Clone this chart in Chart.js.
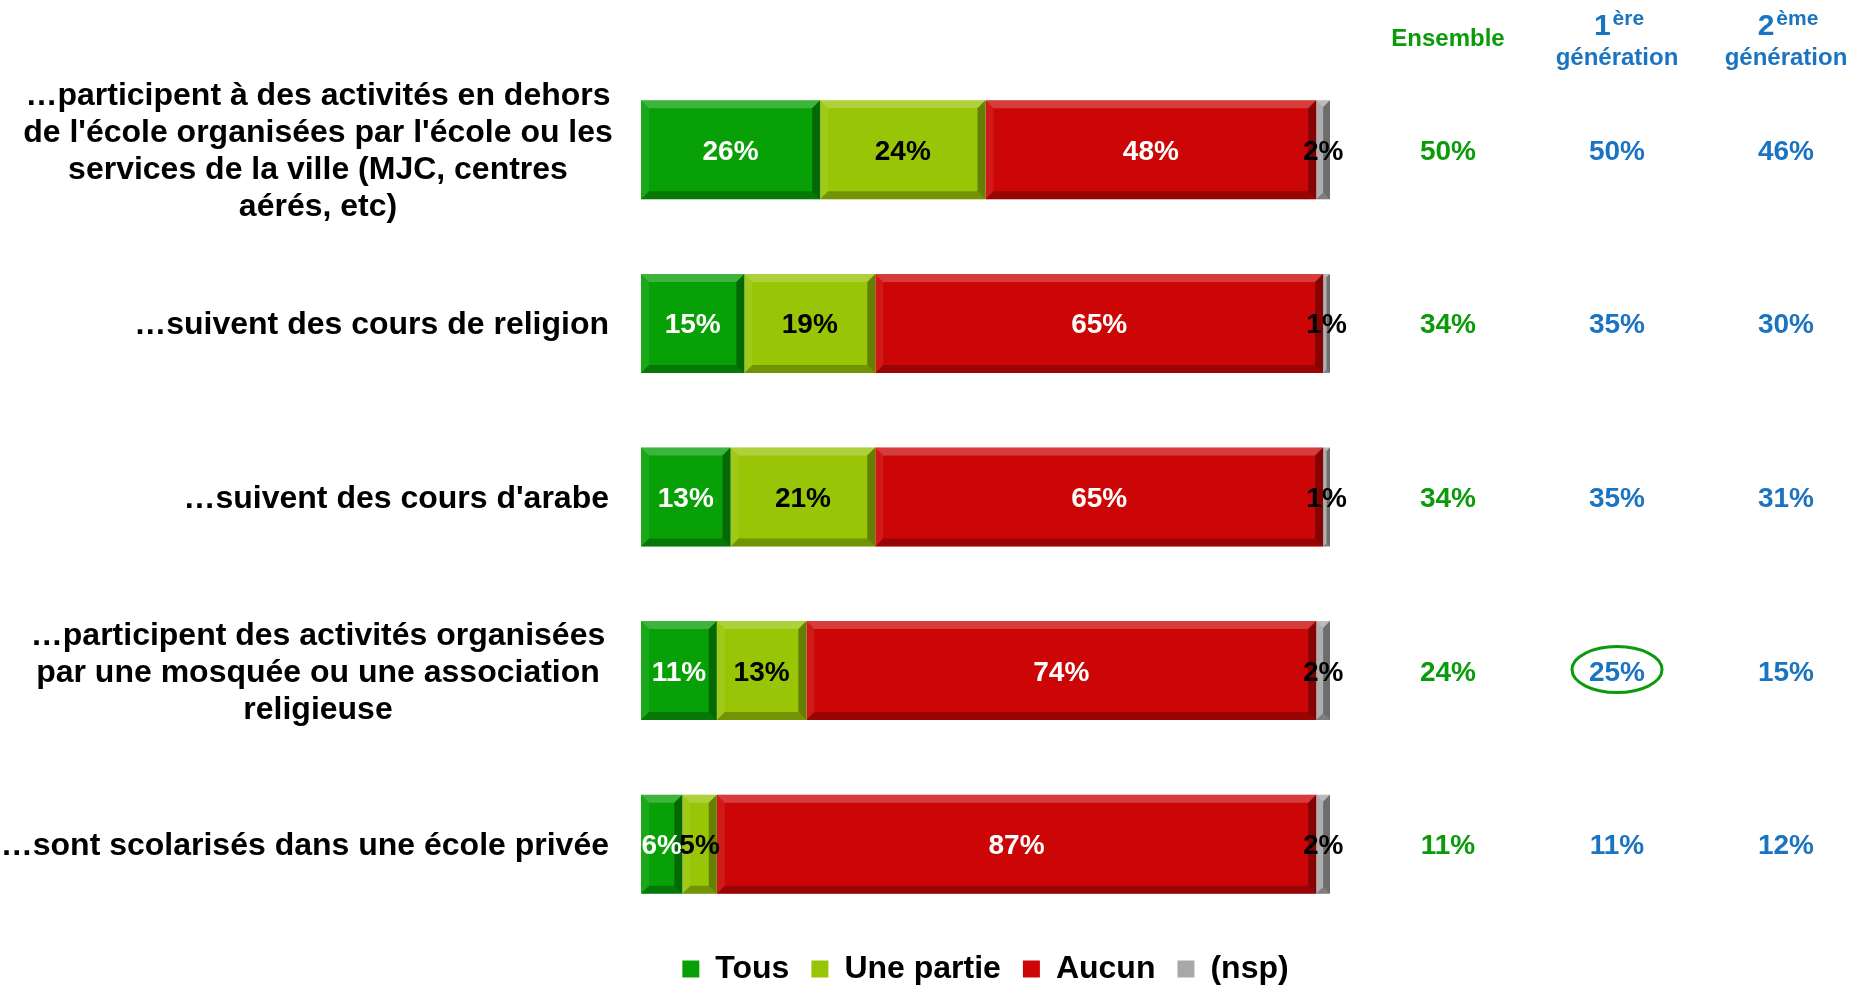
<!DOCTYPE html>
<html lang="fr">
<head>
<meta charset="utf-8">
<title>Activités des enfants</title>
<script src="https://cdn.jsdelivr.net/npm/chart.js@4.4.1/dist/chart.umd.min.js"></script>
<style>
  html, body { margin: 0; padding: 0; background: #fff; }
  #wrap { width: 1861px; height: 988px; position: relative; }
</style>
</head>
<body>
<div id="wrap"><canvas id="chart" width="1861" height="988"></canvas></div>
<script>
// libellés des lignes (une entrée par ligne de texte)
const categories = [
  ['…participent à des activités en dehors', "de l'école organisées par l'école ou les", 'services de la ville (MJC, centres', 'aérés, etc)'],
  ['…suivent des cours de religion'],
  ["…suivent des cours d'arabe"],
  ['…participent des activités organisées', 'par une mosquée ou une association', 'religieuse'],
  ['…sont scolarisés dans une école privée']
];
const seriesNames = ['Tous', 'Une partie', 'Aucun', '(nsp)'];
const tous = [26, 15, 13, 11, 6];
const unePartie = [24, 19, 21, 13, 5];
const aucun = [48, 65, 65, 74, 87];
const nsp = [2, 1, 1, 2, 2];

// colonnes de droite
const columnTitles = ['Ensemble', '1|ère', '2|ème'];
const ensemble = [50, 34, 34, 24, 11];
const gen1 = [50, 35, 35, 25, 11];
const gen2 = [46, 30, 31, 15, 12];

const FONT = "'Liberation Sans', Arial, sans-serif";
const GREEN_TXT = '#0a9a0a';
const BLUE_TXT = '#1b74c2';

Chart.defaults.font.family = FONT;
Chart.defaults.font.weight = 'bold';
Chart.defaults.color = '#000';

// relief des barres + étiquettes de valeurs
const barDecor = {
  id: 'barDecor',
  afterDatasetsDraw(chart) {
    const ctx = chart.ctx;
    chart.data.datasets.forEach((ds, di) => {
      chart.getDatasetMeta(di).data.forEach(bar => {
        const l = Math.min(bar.x, bar.base), r = Math.max(bar.x, bar.base);
        const t = bar.y - bar.height / 2, b = bar.y + bar.height / 2;
        const d = Math.min(8, (r - l) / 2);
        ctx.save();
        ctx.fillStyle = 'rgba(255,255,255,0.22)';
        ctx.beginPath(); ctx.moveTo(l, t); ctx.lineTo(r, t); ctx.lineTo(r - d, t + d); ctx.lineTo(l + d, t + d); ctx.fill();
        ctx.fillStyle = 'rgba(0,0,0,0.25)';
        ctx.beginPath(); ctx.moveTo(l, b); ctx.lineTo(r, b); ctx.lineTo(r - d, b - d); ctx.lineTo(l + d, b - d); ctx.fill();
        ctx.fillStyle = 'rgba(0,0,0,0.35)';
        ctx.beginPath(); ctx.moveTo(r, t); ctx.lineTo(r, b); ctx.lineTo(r - d, b - d); ctx.lineTo(r - d, t + d); ctx.fill();
        ctx.fillStyle = 'rgba(255,255,255,0.08)';
        ctx.beginPath(); ctx.moveTo(l, t); ctx.lineTo(l, b); ctx.lineTo(l + d, b - d); ctx.lineTo(l + d, t + d); ctx.fill();
        ctx.restore();
      });
    });
    ctx.save();
    ctx.font = 'bold 28px ' + FONT;
    ctx.textAlign = 'center';
    ctx.textBaseline = 'alphabetic';
    chart.data.datasets.forEach((ds, di) => {
      chart.getDatasetMeta(di).data.forEach((bar, i) => {
        ctx.fillStyle = ds.labelColor;
        ctx.fillText(ds.data[i] + '%', (bar.x + bar.base) / 2, bar.y + 10);
      });
    });
    ctx.restore();
  }
};

// libellés à gauche et colonnes à droite
const sideText = {
  id: 'sideText',
  afterDraw(chart) {
    const ctx = chart.ctx;
    const y = chart.scales.y;
    ctx.save();
    ctx.textBaseline = 'alphabetic';
    ctx.fillStyle = '#000';
    ctx.font = 'bold 32px ' + FONT;
    categories.forEach((lines, i) => {
      const cy = y.getPixelForValue(i);
      const lh = 37;
      const y0 = cy - (lines.length - 1) / 2 * lh;
      if (lines.length > 1) {
        ctx.textAlign = 'center';
        lines.forEach((s, k) => ctx.fillText(s, 318, y0 + k * lh + 11));
      } else {
        ctx.textAlign = 'right';
        ctx.fillText(lines[0], 609, cy + 11);
      }
    });

    // en-têtes
    const colX = [1448, 1617, 1786];
    ctx.textAlign = 'center';
    ctx.fillStyle = GREEN_TXT;
    ctx.font = 'bold 24px ' + FONT;
    ctx.fillText(columnTitles[0], colX[0], 46);
    ctx.fillStyle = BLUE_TXT;
    [1, 2].forEach(c => {
      const [big, sup] = columnTitles[c].split('|');
      ctx.font = 'bold 30px ' + FONT;
      const w1 = ctx.measureText(big).width;
      ctx.font = 'bold 21px ' + FONT;
      const w2 = ctx.measureText(sup).width;
      const x0 = colX[c] + 2 - (w1 + w2 + 2) / 2;
      ctx.textAlign = 'left';
      ctx.font = 'bold 30px ' + FONT;
      ctx.fillText(big, x0, 35);
      ctx.font = 'bold 21px ' + FONT;
      ctx.fillText(sup, x0 + w1 + 2, 25);
      ctx.textAlign = 'center';
      ctx.font = 'bold 24px ' + FONT;
      ctx.fillText('génération', colX[c], 65);
    });

    // valeurs
    ctx.font = 'bold 28px ' + FONT;
    [[ensemble, GREEN_TXT], [gen1, BLUE_TXT], [gen2, BLUE_TXT]].forEach(([vals, col], c) => {
      ctx.fillStyle = col;
      vals.forEach((v, i) => ctx.fillText(v + '%', colX[c], y.getPixelForValue(i) + 10));
    });

    // ellipse autour de 25 %
    ctx.strokeStyle = GREEN_TXT;
    ctx.lineWidth = 3;
    ctx.beginPath();
    ctx.ellipse(colX[1], y.getPixelForValue(3) - 1, 45, 23, 0, 0, Math.PI * 2);
    ctx.stroke();
    ctx.restore();
  }
};

new Chart(document.getElementById('chart'), {
  type: 'bar',
  data: {
    labels: categories,
    datasets: [
      { label: seriesNames[0], data: tous, backgroundColor: '#07a007', labelColor: '#fff' },
      { label: seriesNames[1], data: unePartie, backgroundColor: '#98c505', labelColor: '#000' },
      { label: seriesNames[2], data: aucun, backgroundColor: '#cc0606', labelColor: '#fff' },
      { label: seriesNames[3], data: nsp, backgroundColor: '#a8a8a8', labelColor: '#000' }
    ]
  },
  options: {
    indexAxis: 'y',
    responsive: false,
    animation: false,
    barPercentage: 0.57,
    categoryPercentage: 1,
    layout: { padding: { left: 641, right: 531, top: 63, bottom: -7 } },
    scales: {
      x: { stacked: true, min: 0, max: 100, display: false },
      y: { stacked: true, display: false }
    },
    plugins: {
      tooltip: { enabled: false },
      legend: {
        position: 'bottom',
        labels: {
          boxWidth: 17,
          boxHeight: 17,
          padding: 22,
          color: '#000',
          font: { size: 32, weight: 'bold', family: FONT }
        }
      }
    }
  },
  plugins: [barDecor, sideText]
});
</script>
</body>
</html>
